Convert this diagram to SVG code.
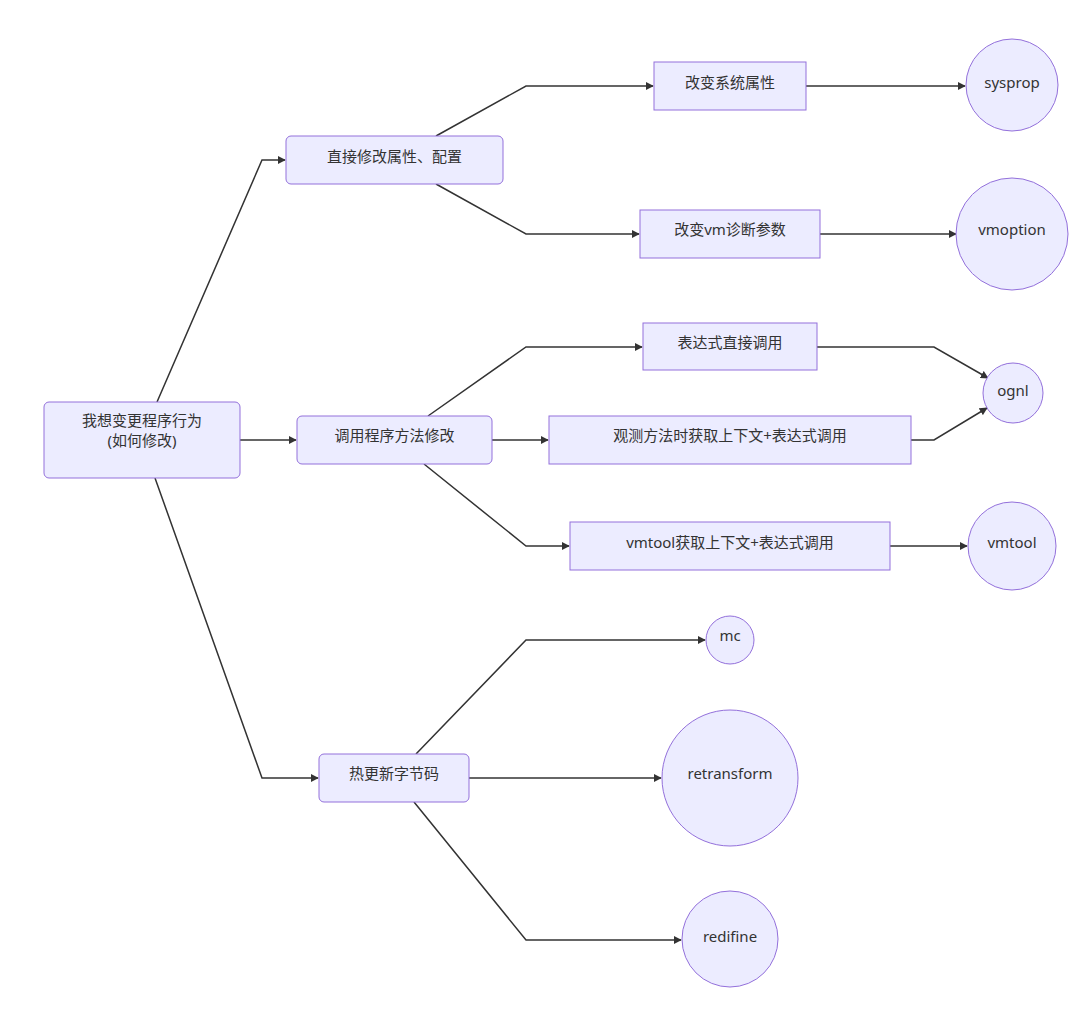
<svg xmlns="http://www.w3.org/2000/svg" width="1080" height="1009" viewBox="0 0 1080 1009">
<defs>
<marker id="arr" viewBox="0 0 10 10" refX="9" refY="5" markerWidth="8" markerHeight="8" markerUnits="userSpaceOnUse" orient="auto">
<path d="M0,0 L10,5 L0,10 z" fill="#333"/>
</marker>
<style>
.n{fill:#ECECFF;stroke:#9370DB;stroke-width:1}
.t{font-family:"Noto Sans","Liberation Sans","Noto Sans CJK SC",sans-serif;font-size:15px;fill:#333;text-anchor:middle}
.e{fill:none;stroke:#333;stroke-width:1.5;marker-end:url(#arr)}
</style>
</defs>
<rect width="1080" height="1009" fill="#fff"/>
<g id="edges">
<path class="e" d="M157,402 L262,160 L285,160"/>
<path class="e" d="M240,440 L296,440"/>
<path class="e" d="M155,478 L262,778 L318,778"/>
<path class="e" d="M436,136 L526,86 L653,86"/>
<path class="e" d="M436,184 L526,234 L639,234"/>
<path class="e" d="M806,86 L965,86"/>
<path class="e" d="M820,234 L956,234"/>
<path class="e" d="M428,416 L526,347 L642,347"/>
<path class="e" d="M492,440 L548,440"/>
<path class="e" d="M424,464 L526,546 L569,546"/>
<path class="e" d="M817,347 L934,347 L988,378"/>
<path class="e" d="M911,440 L934,440 L987,408"/>
<path class="e" d="M890,546 L967,546"/>
<path class="e" d="M416,754 L526,640 L705,640"/>
<path class="e" d="M469,778 L661,778"/>
<path class="e" d="M414,802 L526,940 L681,940"/>
</g>
<g id="root"><rect class="n" x="44" y="402" width="196" height="76" rx="5"/><text class="t" x="142" y="426">我想变更程序行为</text><text class="t" x="142" y="446">(如何修改)</text></g>
<g id="direct"><rect class="n" x="286" y="136" width="217" height="48" rx="5"/><text class="t" x="394.5" y="162">直接修改属性、配置</text></g>
<g id="call"><rect class="n" x="297" y="416" width="195" height="48" rx="5"/><text class="t" x="394.5" y="441">调用程序方法修改</text></g>
<g id="hot"><rect class="n" x="319" y="754" width="150" height="48" rx="5"/><text class="t" x="394" y="779">热更新字节码</text></g>
<g id="sysattr"><rect class="n" x="654" y="62" width="152" height="48"/><text class="t" x="730" y="88">改变系统属性</text></g>
<g id="vmdiag"><rect class="n" x="640" y="210" width="180" height="48"/><text class="t" x="730" y="235">改变vm诊断参数</text></g>
<g id="expr"><rect class="n" x="643" y="323" width="174" height="47"/><text class="t" x="730" y="348">表达式直接调用</text></g>
<g id="watch"><rect class="n" x="549" y="416" width="362" height="48"/><text class="t" x="730" y="441">观测方法时获取上下文+表达式调用</text></g>
<g id="vmtoolctx"><rect class="n" x="570" y="522" width="320" height="48"/><text class="t" x="730" y="548">vmtool获取上下文+表达式调用</text></g>
<g id="sysprop"><circle class="n" cx="1012" cy="85" r="46"/><text class="t" x="1012" y="88">sysprop</text></g>
<g id="vmoption"><circle class="n" cx="1012" cy="234" r="56"/><text class="t" x="1012" y="235">vmoption</text></g>
<g id="ognl"><circle class="n" cx="1013" cy="393" r="30"/><text class="t" x="1013" y="396">ognl</text></g>
<g id="vmtool"><circle class="n" cx="1012" cy="546" r="44"/><text class="t" x="1012" y="548">vmtool</text></g>
<g id="mc"><circle class="n" cx="730" cy="640" r="24"/><text class="t" x="730" y="641">mc</text></g>
<g id="retransform"><circle class="n" cx="730" cy="778" r="68"/><text class="t" x="730" y="779">retransform</text></g>
<g id="redifine"><circle class="n" cx="730" cy="939" r="48"/><text class="t" x="730" y="942">redifine</text></g>
</svg>
